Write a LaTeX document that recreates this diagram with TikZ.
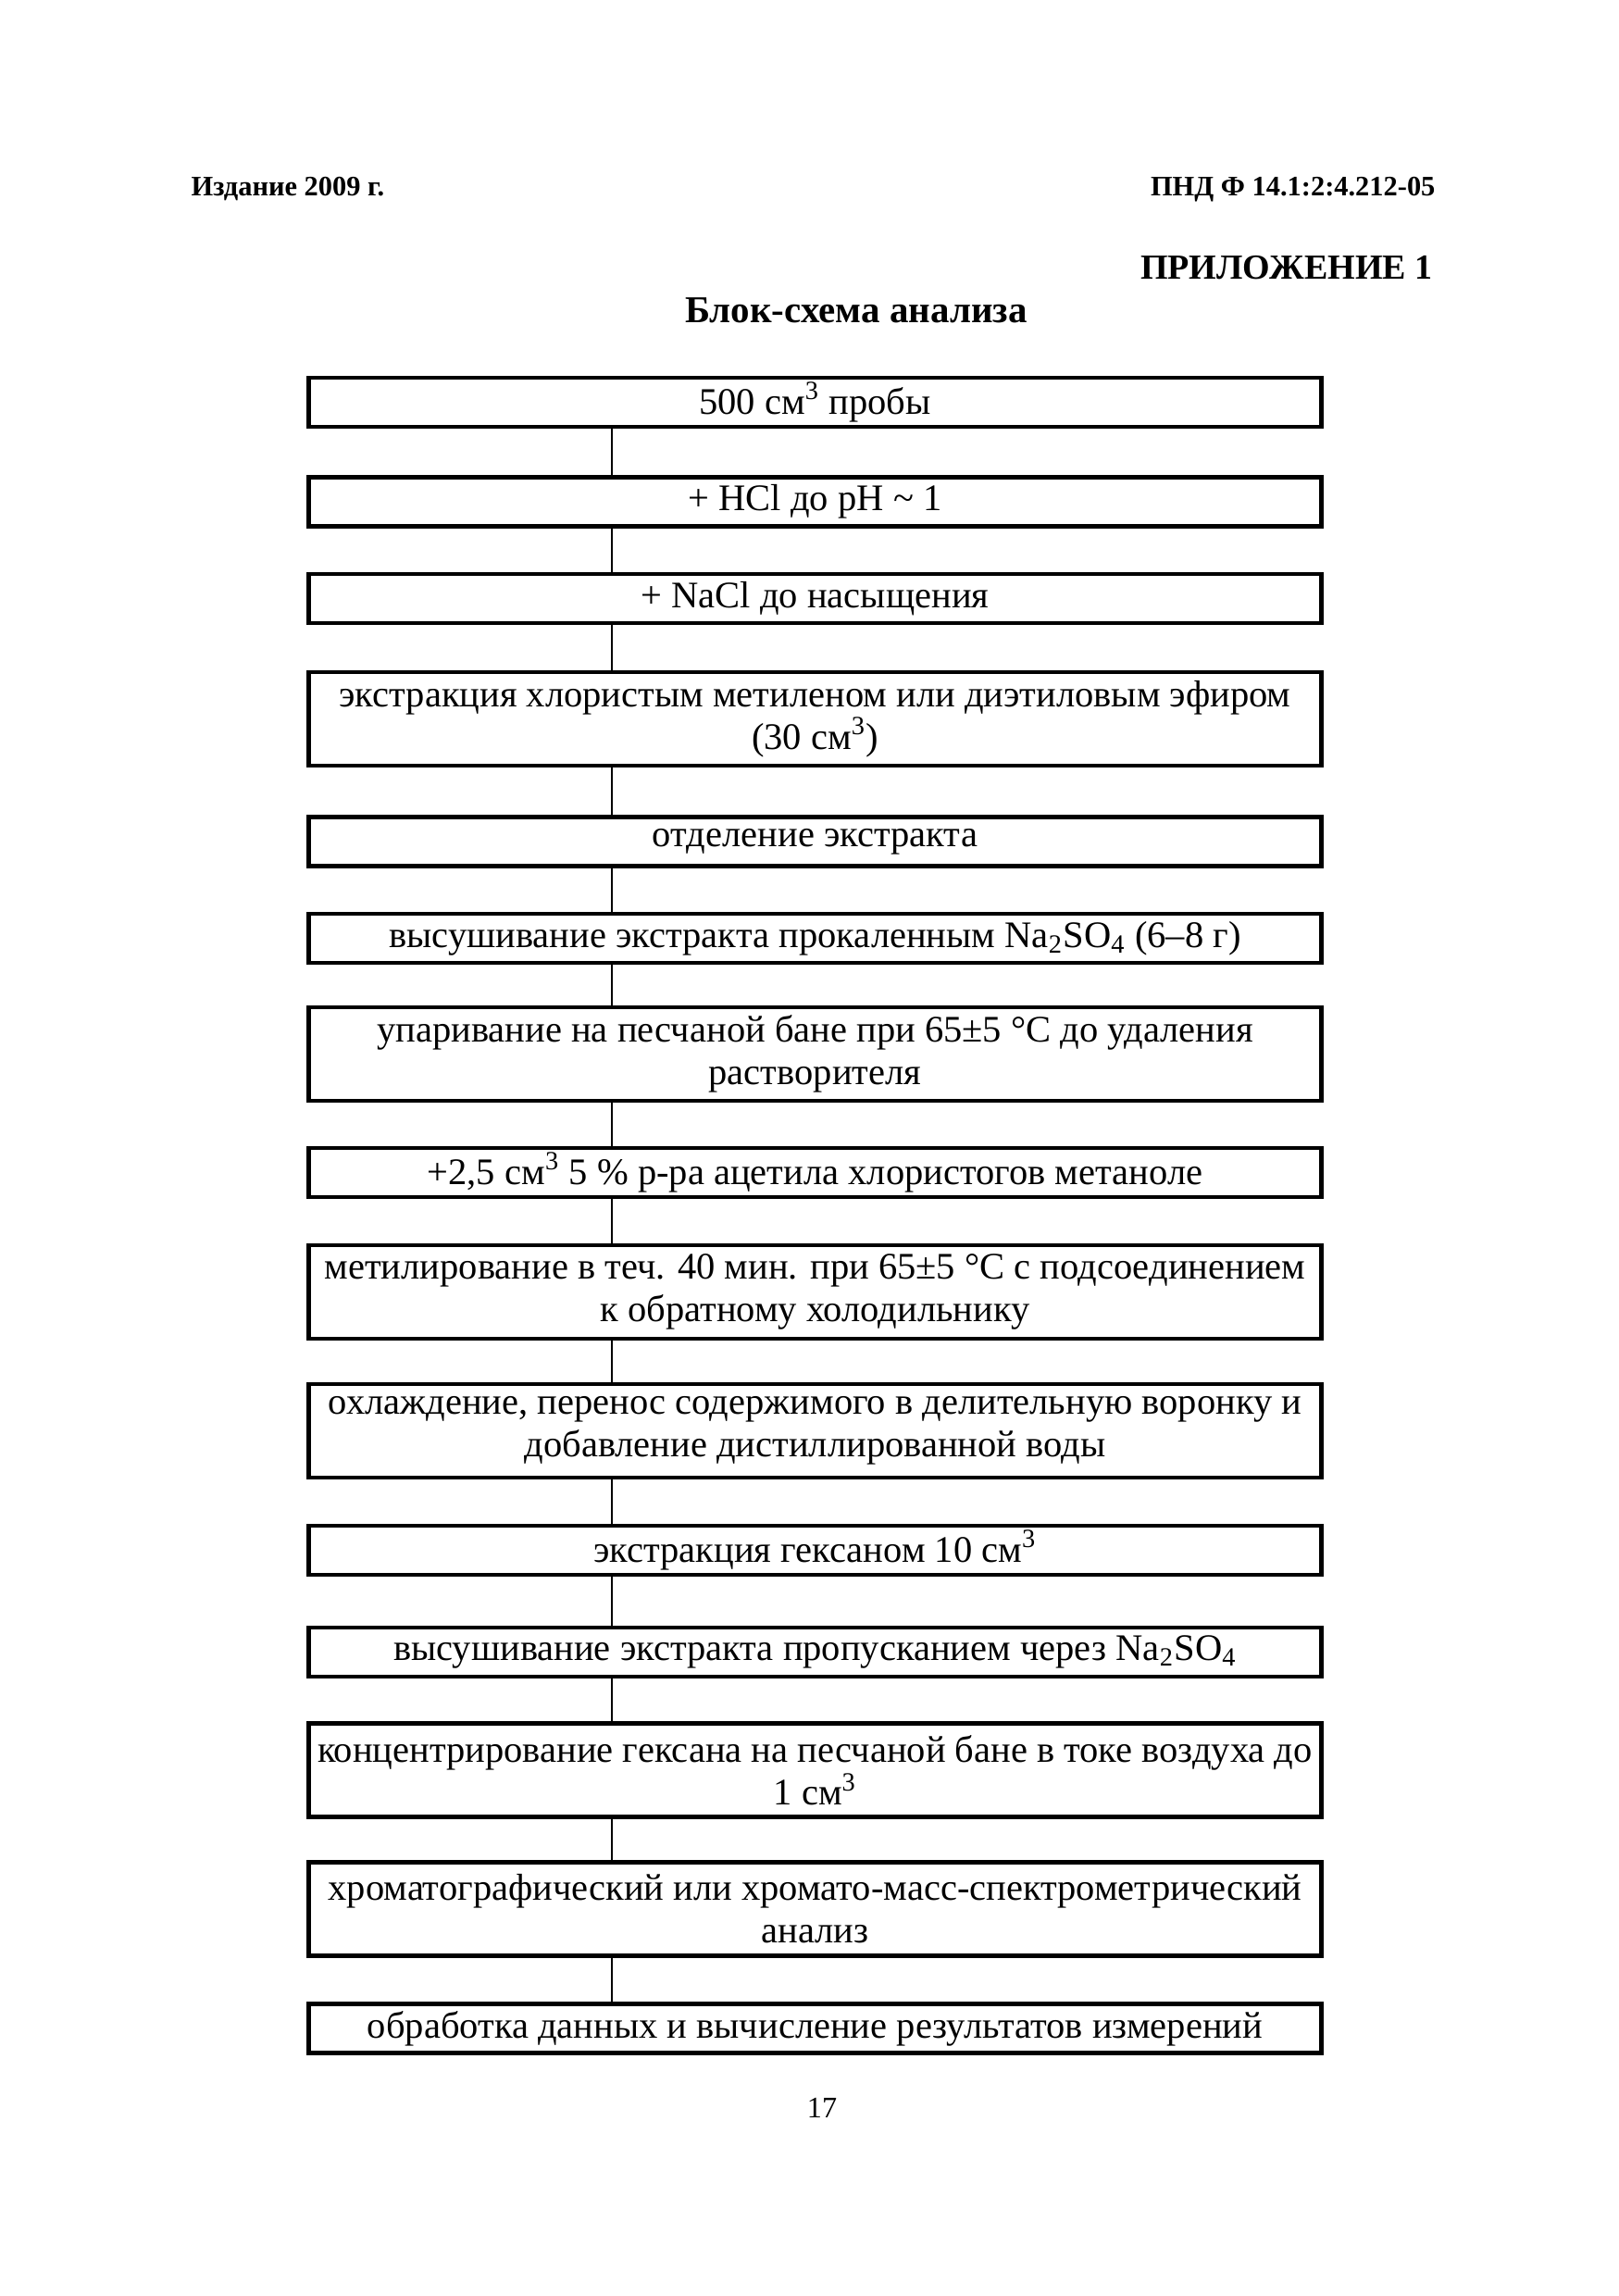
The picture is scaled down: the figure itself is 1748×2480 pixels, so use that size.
\documentclass[tikz,border=0pt]{standalone}
\usepackage{fontspec}
\setmainfont{Liberation Serif}

\tikzset{
  blk/.style={draw,line width=1.5pt,minimum width=131.4mm,minimum height=6.4mm,
    inner sep=0pt,align=center,font=\fontsize{13.85}{15.7}\selectfont},
  blk2/.style={blk,minimum height=12.1mm},
  link/.style={line width=0.6pt},
  head/.style={inner sep=0pt,font=\bfseries\fontsize{10.4}{12}\selectfont},
  title/.style={inner sep=0pt,font=\bfseries\fontsize{14}{16}\selectfont}
}

\begin{document}
\begin{tikzpicture}[x=0.12014mm,y=-0.12014mm]
  \fill[white] (0,0) rectangle (1748,2480);
  \useasboundingbox (0,0) rectangle (1748,2480);
  % page header
  \node[head,anchor=base west] (edition) at (206,211) {Издание 2009 г.};
  \node[head,anchor=base east] (docid) at (1551,211) {ПНД Ф 14.1:2:4.212-05};
  \node[title,anchor=base east,font=\bfseries\fontsize{13}{15}\selectfont] (appx) at (1548,301) {ПРИЛОЖЕНИЕ 1};
  \node[title,anchor=base] (caption) at (925,348) {Блок-схема анализа};
  % flow boxes
  \node[blk] (b1) at (880.5,434.5) {500 см\textsuperscript{3} пробы};
  \node[blk] (b2) at (880.5,542) {+ HCl до pH \textasciitilde{} 1};
  \node[blk] (b3) at (880.5,646.5) {+ NaCl до насыщения};
  \node[blk2] (b4) at (880.5,776.5) {экстракция хлористым метиленом или диэтиловым эфиром\\(30 см\textsuperscript{3})};
  \node[blk] (b5) at (880.5,909) {отделение экстракта};
  \node[blk] (b6) at (880.5,1013.5) {высушивание экстракта прокаленным Na\textsubscript{2}SO\textsubscript{4} (6–8 г)};
  \node[blk2] (b7) at (880.5,1138.5) {упаривание на песчаной бане при 65±5 °C до удаления\\растворителя};
  \node[blk] (b8) at (880.5,1266.5) {+2,5 см\textsuperscript{3} 5 \% р-ра ацетила хлористогов метаноле};
  \node[blk2] (b9) at (880.5,1395.5) {метилирование в теч. 40 мин. при 65±5 °C с подсоединением\\к обратному холодильнику};
  \node[blk2] (b10) at (880.5,1545.5) {охлаждение, перенос содержимого в делительную воронку и\\добавление дистиллированной воды};
  \node[blk] (b11) at (880.5,1674.5) {экстракция гексаном 10 см\textsuperscript{3}};
  \node[blk] (b12) at (880.5,1784.5) {высушивание экстракта пропусканием через Na\textsubscript{2}SO\textsubscript{4}};
  \node[blk2] (b13) at (880.5,1912) {концентрирование гексана на песчаной бане в токе воздуха до\\1 см\textsuperscript{3}};
  \node[blk2] (b14) at (880.5,2062) {хроматографический или хромато-масс-спектрометрический\\анализ};
  \node[blk] (b15) at (880.5,2191) {обработка данных и вычисление результатов измерений};
  % connectors, off-centre as in the original
  \coordinate (spine) at (661,0);
  \draw[link] (b1.south -| spine) -- (b2.north -| spine);
  \draw[link] (b2.south -| spine) -- (b3.north -| spine);
  \draw[link] (b3.south -| spine) -- (b4.north -| spine);
  \draw[link] (b4.south -| spine) -- (b5.north -| spine);
  \draw[link] (b5.south -| spine) -- (b6.north -| spine);
  \draw[link] (b6.south -| spine) -- (b7.north -| spine);
  \draw[link] (b7.south -| spine) -- (b8.north -| spine);
  \draw[link] (b8.south -| spine) -- (b9.north -| spine);
  \draw[link] (b9.south -| spine) -- (b10.north -| spine);
  \draw[link] (b10.south -| spine) -- (b11.north -| spine);
  \draw[link] (b11.south -| spine) -- (b12.north -| spine);
  \draw[link] (b12.south -| spine) -- (b13.north -| spine);
  \draw[link] (b13.south -| spine) -- (b14.north -| spine);
  \draw[link] (b14.south -| spine) -- (b15.north -| spine);
  % page number
  \node[inner sep=0pt,anchor=base,font=\fontsize{11}{13}\selectfont] (pageno) at (888,2287) {17};
\end{tikzpicture}
\end{document}
